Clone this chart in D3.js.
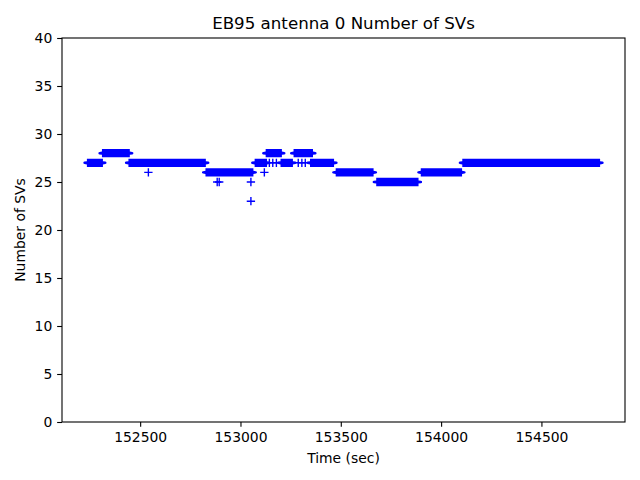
<!DOCTYPE html>
<html>
<head>
<meta charset="utf-8">
<script src="https://cdn.jsdelivr.net/npm/d3@7/dist/d3.min.js"></script>
<style>
  html, body { margin: 0; padding: 0; background: #fff; }
  text { font-family: "DejaVu Sans", sans-serif; }
</style>
</head>
<body>
<svg id="chart" width="640" height="480"></svg>
<script>
// Runs of consecutive samples (seconds) at a constant number of SVs
const runStart = [152238, 152313, 152445, 152829, 153074, 153129, 153203, 153268, 153350, 153478, 153680, 153902, 154109];
const runEnd   = [152311, 152445, 152824, 153061, 153129, 153203, 153258, 153358, 153463, 153660, 153884, 154101, 154789];
const runValue = [27,     28,     27,     26,     27,     28,     27,     28,     27,     26,     25,     26,     27];
// Isolated samples
const pointTime  = [152541, 152884, 152894, 153052, 153052, 153119, 153144, 153161, 153179, 153288, 153306, 153323];
const pointValue = [26,     25,     25,     25,     23,     26,     27,     27,     27,     27,     27,     27];
const yTicks = [0, 5, 10, 15, 20, 25, 30, 35, 40];
const xTicks = [152500, 153000, 153500, 154000, 154500];

const svg = d3.select("#chart");
const L = 62, R = 625, T = 38, B = 422;
const blue = "#0000ff";
const ms = 8.33, lw = 1.39, tick = 4.86;

const allT = runStart.concat(runEnd, pointTime);
const tMin = d3.min(allT), tMax = d3.max(allT), span = tMax - tMin;
const x = d3.scaleLinear().domain([tMin - 0.05 * span, tMax + 0.05 * span]).range([L, R]);
const y = d3.scaleLinear().domain([0, 40]).range([B, T]);

// Runs drawn as dense + markers
const runs = runStart.map((s, i) => ({ s, e: runEnd[i], v: runValue[i] }));
const g = svg.append("g");
g.selectAll("path.run").data(runs).enter().append("path")
  .attr("d", d => {
    const x0 = x(d.s), x1 = x(d.e), cy = y(d.v), h = ms / 2, w = lw / 2;
    return `M${x0 - w},${cy - h}H${x1 + w}V${cy - 1.6}L${x1 + h - 1},${cy - 1.2}L${x1 + h},${cy - w}` +
           `V${cy + w}L${x1 + h - 1},${cy + 1.2}L${x1 + w},${cy + 1.6}V${cy + h}H${x0 - w}V${cy + 1.6}` +
           `L${x0 - h + 1},${cy + 1.2}L${x0 - h},${cy + w}V${cy - w}L${x0 - h + 1},${cy - 1.2}L${x0 - w},${cy - 1.6}Z`;
  })
  .attr("fill", blue);

const pts = pointTime.map((t, i) => ({ t, v: pointValue[i] }));
g.selectAll("path.pt").data(pts).enter().append("path")
  .attr("d", d => {
    const cx = x(d.t), cy = y(d.v), h = ms / 2;
    return `M${cx - h},${cy}H${cx + h}M${cx},${cy - h}V${cy + h}`;
  })
  .attr("stroke", blue).attr("stroke-width", lw).attr("fill", "none");

// Axes
const xAxis = svg.append("g").attr("transform", `translate(0,${B})`)
  .call(d3.axisBottom(x).tickValues(xTicks).tickFormat(d3.format("d")).tickSize(tick).tickPadding(4.86));
const yAxis = svg.append("g").attr("transform", `translate(${L},0)`)
  .call(d3.axisLeft(y).tickValues(yTicks).tickFormat(d3.format("d")).tickSize(tick).tickPadding(4.86));
[xAxis, yAxis].forEach(a => {
  a.select(".domain").remove();
  a.selectAll(".tick line").attr("stroke", "#000").attr("stroke-width", 1.1);
  a.selectAll(".tick text").attr("font-size", "13.9px").attr("fill", "#000")
    .attr("font-family", "DejaVu Sans, sans-serif");
});

// Frame
svg.append("rect").attr("x", L).attr("y", T).attr("width", R - L).attr("height", B - T)
  .attr("fill", "none").attr("stroke", "#000").attr("stroke-width", 1.1);

// Titles
svg.append("text").attr("x", (L + R) / 2).attr("y", 29).attr("text-anchor", "middle")
  .attr("font-size", "16.67px").text("EB95 antenna 0 Number of SVs");
svg.append("text").attr("x", (L + R) / 2).attr("y", 463).attr("text-anchor", "middle")
  .attr("font-size", "13.9px").text("Time (sec)");
svg.append("text").attr("transform", `translate(25,${(T + B) / 2}) rotate(-90)`)
  .attr("text-anchor", "middle").attr("font-size", "13.9px").text("Number of SVs");
</script>
</body>
</html>
